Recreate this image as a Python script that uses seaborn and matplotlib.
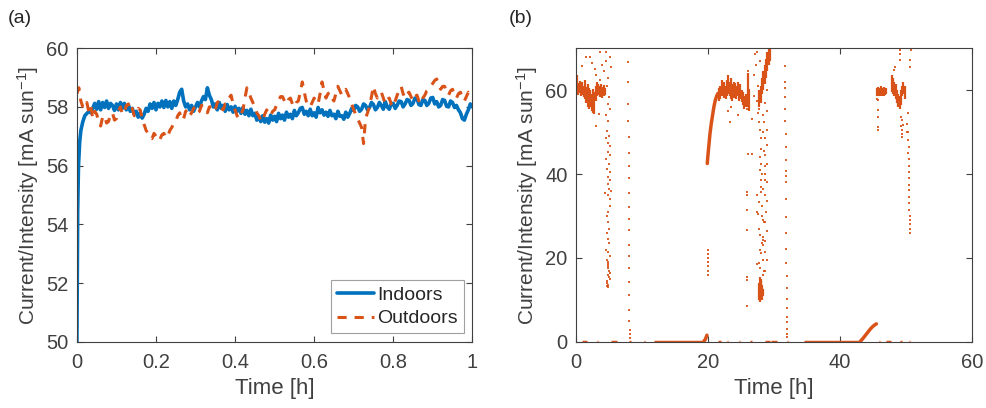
import numpy as np
import pandas as pd
import matplotlib
matplotlib.use("Agg")
import matplotlib.pyplot as plt
import seaborn as sns

# ---- panel (a): indoors / outdoors, first hour ----
# start-up of the indoor cell
indoor_start_t = [0.0, 0.002, 0.004, 0.007, 0.01, 0.015, 0.02, 0.03, 0.035]
indoor_start_y = [50.0, 54.5, 56.0, 56.8, 57.2, 57.5, 57.7, 57.85, 57.8]

indoor_t = [0.040, 0.045, 0.050, 0.055, 0.060, 0.065, 0.070, 0.075, 0.080, 0.085,
            0.090, 0.095, 0.100, 0.105, 0.110, 0.115, 0.120, 0.125, 0.130, 0.135,
            0.140, 0.145, 0.150, 0.155, 0.160, 0.165, 0.170, 0.175, 0.180, 0.185,
            0.190, 0.195, 0.200, 0.205, 0.210, 0.215, 0.220, 0.225, 0.230, 0.235,
            0.240, 0.245, 0.250, 0.255, 0.260, 0.265, 0.270, 0.275, 0.280, 0.285,
            0.290, 0.295, 0.300, 0.305, 0.310, 0.315, 0.320, 0.325, 0.330, 0.335,
            0.340, 0.345, 0.350, 0.355, 0.360, 0.365, 0.370, 0.375, 0.380, 0.385,
            0.390, 0.395, 0.400, 0.405, 0.410, 0.415, 0.420, 0.425, 0.430, 0.435,
            0.440, 0.445, 0.450, 0.455, 0.460, 0.465, 0.470, 0.475, 0.480, 0.485,
            0.490, 0.495, 0.500, 0.505, 0.510, 0.515, 0.520, 0.525, 0.530, 0.535,
            0.540, 0.545, 0.550, 0.555, 0.560, 0.565, 0.570, 0.575, 0.580, 0.585,
            0.590, 0.595, 0.600, 0.605, 0.610, 0.615, 0.620, 0.625, 0.630, 0.635,
            0.640, 0.645, 0.650, 0.655, 0.660, 0.665, 0.670, 0.675, 0.680, 0.685,
            0.690, 0.695, 0.700, 0.705, 0.710, 0.715, 0.720, 0.725, 0.730, 0.735,
            0.740, 0.745, 0.750, 0.755, 0.760, 0.765, 0.770, 0.775, 0.780, 0.785,
            0.790, 0.795, 0.800, 0.805, 0.810, 0.815, 0.820, 0.825, 0.830, 0.835,
            0.840, 0.845, 0.850, 0.855, 0.860, 0.865, 0.870, 0.875, 0.880, 0.885,
            0.890, 0.895, 0.900, 0.905, 0.910, 0.915, 0.920, 0.925, 0.930, 0.935,
            0.940, 0.945, 0.950, 0.955, 0.960, 0.965, 0.970, 0.975, 0.980, 0.985,
            0.990, 0.995, 1.000]
indoor_y = [57.95, 58.12, 57.92, 58.18, 57.9, 58.15, 57.98, 58.2, 57.95, 58.12,
            58.05, 57.88, 58.1, 57.9, 58.15, 57.95, 58.12, 57.9, 58.08, 57.85,
            57.95, 57.75, 57.85, 57.65, 57.8, 57.62, 57.75, 57.95, 57.85, 58.1,
            57.95, 58.15, 57.9, 58.12, 58.0, 58.2, 57.98, 58.22, 58.0, 58.18,
            57.95, 58.2, 58.05, 58.25, 58.5, 58.6, 58.2, 58.0, 58.1, 57.9,
            58.05, 57.85, 58.0, 58.15, 58.0, 58.2, 58.35, 58.25, 58.65, 58.4,
            58.25, 58.0, 58.1, 57.9, 58.15, 57.95, 58.05, 57.85, 58.08, 57.9,
            58.0, 57.82, 58.02, 57.85, 57.95, 57.78, 57.98, 57.75, 57.88, 57.7,
            57.92, 57.7, 57.78, 57.55, 57.68, 57.5, 57.7, 57.48, 57.6, 57.45,
            57.72, 57.55, 57.68, 57.5, 57.78, 57.6, 57.72, 57.55, 57.82, 57.65,
            57.75, 57.6, 57.88, 57.7, 57.8, 57.95, 57.98, 57.75, 57.85, 57.7,
            57.92, 57.7, 57.8, 57.65, 57.98, 57.8, 57.9, 57.72, 57.82, 57.68,
            57.88, 57.7, 57.75, 57.6, 57.85, 57.68, 57.7, 57.58, 57.82, 57.65,
            57.78, 57.95, 57.88, 58.05, 58.0, 57.85, 57.92, 58.1, 58.05, 57.9,
            57.98, 58.15, 58.08, 57.9, 57.98, 58.15, 58.05, 57.92, 58.18, 58.0,
            57.92, 58.1, 58.12, 57.95, 58.05, 58.2, 58.18, 58.0, 58.1, 58.25,
            58.22, 58.05, 58.12, 58.3, 58.28, 58.08, 58.05, 58.25, 58.22, 58.05,
            58.12, 58.3, 58.32, 58.1, 58.18, 58.0, 58.05, 58.25, 58.22, 58.02,
            58.0, 58.2, 58.15, 57.98, 58.05, 57.9, 57.8, 57.6, 57.55, 57.75,
            57.9, 58.1, 58.0]

outdoor_t = [0.000, 0.005, 0.010, 0.015, 0.020, 0.025, 0.030, 0.035, 0.040, 0.045,
             0.050, 0.055, 0.060, 0.065, 0.070, 0.075, 0.080, 0.085, 0.090, 0.095,
             0.100, 0.105, 0.110, 0.115, 0.120, 0.125, 0.130, 0.135, 0.140, 0.145,
             0.150, 0.155, 0.160, 0.165, 0.170, 0.175, 0.180, 0.185, 0.190, 0.195,
             0.200, 0.205, 0.210, 0.215, 0.220, 0.225, 0.230, 0.235, 0.240, 0.245,
             0.250, 0.255, 0.260, 0.265, 0.270, 0.275, 0.280, 0.285, 0.290, 0.295,
             0.300, 0.305, 0.310, 0.315, 0.320, 0.325, 0.330, 0.335, 0.340, 0.345,
             0.350, 0.355, 0.360, 0.365, 0.370, 0.375, 0.380, 0.385, 0.390, 0.395,
             0.400, 0.405, 0.410, 0.415, 0.420, 0.425, 0.430, 0.435, 0.440, 0.445,
             0.450, 0.455, 0.460, 0.465, 0.470, 0.475, 0.480, 0.485, 0.490, 0.495,
             0.500, 0.505, 0.510, 0.515, 0.520, 0.525, 0.530, 0.535, 0.540, 0.545,
             0.550, 0.555, 0.560, 0.565, 0.570, 0.575, 0.580, 0.585, 0.590, 0.595,
             0.600, 0.605, 0.610, 0.615, 0.620, 0.625, 0.630, 0.635, 0.640, 0.645,
             0.650, 0.655, 0.660, 0.665, 0.670, 0.675, 0.680, 0.685, 0.690, 0.695,
             0.700, 0.705, 0.710, 0.715, 0.720, 0.725, 0.730, 0.735, 0.740, 0.745,
             0.750, 0.755, 0.760, 0.765, 0.770, 0.775, 0.780, 0.785, 0.790, 0.795,
             0.800, 0.805, 0.810, 0.815, 0.820, 0.825, 0.830, 0.835, 0.840, 0.845,
             0.850, 0.855, 0.860, 0.865, 0.870, 0.875, 0.880, 0.885, 0.890, 0.895,
             0.900, 0.905, 0.910, 0.915, 0.920, 0.925, 0.930, 0.935, 0.940, 0.945,
             0.950, 0.955, 0.960, 0.965, 0.970, 0.975, 0.980, 0.985, 0.990, 0.995,
             1.000]
outdoor_y = [58.45, 58.65, 58.2, 58.0, 57.95, 58.15, 57.85, 58.05, 57.6, 57.85,
             57.75, 57.5, 57.35, 57.65, 57.7, 57.45, 57.5, 57.75, 57.8, 57.55,
             57.6, 57.85, 58.0, 57.75, 57.8, 58.05, 58.1, 57.85, 57.95, 57.7,
             57.75, 57.95, 57.9, 57.6, 57.4, 57.2, 57.1, 56.95, 56.92, 57.1,
             57.0, 56.85, 56.9, 57.05, 57.1, 56.95, 57.0, 57.2, 57.3, 57.45,
             57.5, 57.7, 57.8, 57.55, 57.6, 57.85, 57.9, 57.7, 57.8, 57.95,
             58.0, 57.8, 57.85, 58.05, 58.05, 57.85, 57.8, 58.0, 58.0, 57.85,
             57.9, 58.15, 58.2, 57.95, 57.9, 58.1, 58.1, 58.3, 58.4, 58.1,
             57.9, 57.7, 57.6, 57.75, 57.9, 58.3, 58.65, 58.5, 58.3, 58.15,
             58.0, 57.8, 57.7, 57.55, 57.5, 57.75, 57.9, 57.75, 57.7, 57.85,
             57.9, 58.05, 58.2, 58.35, 58.35, 58.2, 58.1, 58.25, 58.3, 58.1,
             58.0, 58.15, 58.2, 58.5, 58.85, 58.5, 58.2, 58.05, 58.0, 58.15,
             58.3, 58.15, 58.1, 58.45, 58.85, 58.55, 58.3, 58.45, 58.5, 58.3,
             58.2, 58.45, 58.7, 58.55, 58.4, 58.55, 58.6, 58.45, 58.3, 58.1,
             57.9, 57.75, 57.6, 57.45, 57.3, 56.75, 57.6, 57.8, 58.0, 58.35,
             58.7, 58.45, 58.3, 58.45, 58.5, 58.3, 58.1, 58.25, 58.3, 58.1,
             58.0, 58.2, 58.4, 58.55, 58.7, 58.45, 58.3, 58.45, 58.5, 58.35,
             58.2, 58.35, 58.4, 58.2, 58.1, 58.3, 58.4, 58.55, 58.6, 58.7,
             58.8, 58.9, 58.95, 58.75, 58.6, 58.7, 58.7, 58.5, 58.4, 58.55,
             58.6, 58.4, 58.3, 58.45, 58.5, 58.3, 58.2, 58.35, 58.5, 58.4,
             58.4]

# ---- panel (b): outdoors, 60 h ----
# dense bands: time, lower and upper edge
band_t = [0.0, 0.2, 0.4, 0.6, 0.8, 1.0, 1.2, 1.4, 1.6, 1.8, 2.0, 2.2, 2.4, 2.6, 2.8,
          3.0, 3.2, 3.4, 3.6, 3.8, 4.0, 4.2, 4.4,
          21.7, 21.9, 22.1, 22.3, 22.5, 22.7, 22.9, 23.1, 23.3, 23.5, 23.7, 23.9,
          24.1, 24.3, 24.5, 24.7, 24.9, 25.1, 25.3, 25.5, 25.7, 26.0, 26.2,
          27.8, 28.0, 28.2, 28.4, 28.6, 28.8, 29.0, 29.2, 29.4,
          27.8, 27.9, 28.0, 28.1, 28.2, 28.3,
          45.6, 45.8, 46.0, 46.2, 46.4, 46.6, 46.8, 47.0,
          47.8, 48.0, 48.2, 48.4, 48.6, 48.8, 49.0, 49.2, 49.4, 49.6, 49.8]
band_lo = [59.0, 59.5, 58.8, 59.3, 58.6, 58.8, 58.3, 58.0, 57.0, 56.0, 55.5, 56.0, 55.0, 54.6, 54.4,
           57.5, 58.5, 58.8, 58.3, 58.6, 58.2, 58.5, 58.8,
           57.5, 58.0, 58.5, 59.0, 58.2, 57.8, 58.5, 59.0, 58.5, 58.0, 57.5, 58.2,
           58.8, 57.8, 58.5, 57.5, 58.0, 57.2, 56.5, 55.5, 56.0, 56.0, 55.0,
           56.0, 57.0, 59.0, 60.0, 61.5, 63.0, 64.5, 66.0, 67.0,
           10.0, 9.6, 10.5, 11.0, 10.0, 11.0,
           58.5, 58.7, 58.5, 58.8, 58.6, 58.5, 58.8, 59.0,
           59.5, 59.0, 58.5, 58.0, 57.0, 56.0, 55.5, 56.5, 58.5, 59.0, 58.0]
band_hi = [62.6, 63.5, 61.8, 62.2, 61.5, 62.0, 61.0, 62.5, 60.7, 61.5, 60.5, 60.0, 59.0, 60.2, 59.5,
           61.0, 62.0, 61.5, 61.0, 61.5, 60.8, 61.2, 60.5,
           60.5, 61.0, 62.5, 61.5, 62.0, 61.0, 62.5, 63.5, 62.0, 63.0, 61.5, 62.0,
           61.8, 61.0, 62.0, 60.5, 61.5, 60.0, 59.5, 58.5, 59.0, 64.0, 60.0,
           60.0, 61.0, 63.0, 64.5, 66.0, 67.5, 69.0, 70.0, 70.0,
           14.0, 15.5, 15.0, 14.5, 13.5, 12.5,
           60.5, 60.8, 60.5, 61.0, 60.6, 60.8, 60.3, 60.5,
           63.5, 63.0, 62.0, 61.5, 60.0, 59.0, 58.5, 60.0, 61.0, 62.0, 61.0]

# smooth ramps (morning start-up curves)
ramp1_t = [19.4, 19.6, 19.75, 19.85]
ramp1_y = [0.2, 0.6, 1.2, 1.6]
ramp2_t = [19.9, 20.0, 20.15, 20.3, 20.5, 20.7, 20.9, 21.1, 21.3, 21.5]
ramp2_y = [42.5, 44.5, 47.0, 49.5, 52.0, 54.0, 56.0, 57.5, 58.5, 59.2]
ramp3_t = [43.1, 43.4, 43.7, 44.0, 44.3, 44.6, 44.9, 45.2, 45.5]
ramp3_y = [0.2, 0.7, 1.3, 1.9, 2.5, 3.1, 3.6, 4.0, 4.3]

# runs of zero current (night)
zero_start = [0.9, 3.2, 5.4, 8.1, 10.3, 11.9, 21.5, 22.9, 24.7, 26.4, 28.6, 29.6,
              31.9, 34.6, 45.9, 46.9, 49.1, 50.4]
zero_end = [1.7, 3.4, 6.3, 8.3, 10.5, 19.5, 22.0, 23.1, 24.9, 26.6, 29.4, 30.4,
            32.1, 43.1, 46.1, 47.7, 49.3, 50.6]

# isolated samples
dots_t = [1.0, 1.6, 2.1, 2.5, 2.9, 3.1, 3.6, 3.7, 4.0, 4.3, 4.5, 4.6, 4.9, 5.2, 5.25,
          4.7, 5.0, 4.9, 5.1, 3.5, 4.6, 4.9, 3.1, 4.7, 5.0, 4.8, 5.1, 4.5, 4.8, 5.2,
          4.6, 5.0, 4.7, 5.1, 4.9, 5.2, 4.8, 5.0, 5.3,
          4.4, 4.9, 5.2, 5.1, 4.8, 4.7, 4.9, 5.0, 4.7, 4.8, 5.0, 4.6, 4.9, 5.1, 4.7,
          4.8, 5.0, 4.9, 5.1, 4.7, 4.8, 4.9, 4.8, 4.9, 4.8, 5.1, 5.0, 4.7, 4.75,
          7.9, 7.9, 7.95, 7.95, 8.0, 8.0, 8.0, 8.0, 8.05, 8.0, 8.0, 8.0, 8.05, 8.05,
          8.05, 8.1, 8.1, 8.1, 8.1, 8.15, 8.15, 8.15,
          19.95, 19.95, 19.95, 20.0, 20.0, 20.0, 20.0,
          23.1, 23.3, 24.6, 23.5, 25.9, 26.1, 26.1, 26.2, 26.2, 26.1, 26.6, 26.7,
          26.9, 27.0, 27.1, 27.0, 27.3, 27.6, 27.4, 27.6, 27.8, 27.8, 27.9, 28.0,
          28.0, 27.9, 28.1, 27.9, 28.2, 28.0, 28.1, 28.4, 28.3, 28.5, 28.6, 28.7,
          28.3, 27.5, 27.9,
          25.9, 25.9, 25.9, 25.9, 25.9, 25.9, 25.9, 27.4, 28.0, 27.7, 28.2, 27.5,
          28.2, 27.6, 28.3, 27.8, 28.5, 27.9, 28.3, 28.4, 28.2, 28.3, 27.9, 28.1,
          28.4, 27.8, 27.4, 27.9, 28.5, 28.3,
          28.6, 28.9, 28.7, 29.0, 28.5, 28.9, 28.6, 29.0, 28.7, 28.9, 28.6, 28.9,
          28.7, 28.9, 28.8, 28.6, 28.9, 28.7, 28.6, 28.9, 28.7,
          31.6, 31.65, 31.65, 31.7, 31.7, 31.7, 31.75, 31.75, 31.75, 31.8, 31.8,
          31.8, 31.8, 31.85, 31.85, 31.85, 31.85, 31.9, 31.9, 31.9, 31.95, 31.95,
          31.95, 32.0, 32.0, 32.0,
          45.7, 45.7, 45.7, 45.7, 45.7, 45.6,
          48.3, 48.1, 49.0, 49.0, 49.1, 50.7, 50.6, 50.6,
          49.2, 49.3, 49.2, 49.3, 49.4, 49.3, 49.5,
          50.3, 50.2, 50.3, 50.3, 50.4, 50.3, 50.4, 50.4, 50.4, 50.5, 50.4, 50.5,
          50.5, 50.5, 50.5, 50.6, 50.6, 50.6, 50.6, 50.6, 50.1]
dots_y = [65.8, 67.8, 67.8, 66.5, 65.0, 63.5, 62.5, 69.2, 66.0, 64.5, 69.2, 67.0, 63.0, 67.8, 65.5,
          61.0, 58.3, 56.7, 55.5, 54.3, 54.0, 52.7, 51.5, 50.3, 49.0, 47.5, 46.8, 48.7, 45.2, 44.5,
          43.6, 42.5, 41.2, 40.5, 39.2, 38.5, 37.6, 36.5, 36.0,
          35.5, 35.0, 34.0, 32.5, 31.0, 30.0, 28.5, 27.0, 26.0, 24.5, 23.5, 22.0, 21.5, 20.5, 19.5,
          18.5, 17.0, 16.0, 15.0, 14.5, 13.5, 13.0, 19.0, 18.0, 17.5, 16.5, 15.5, 14.0, 13.3,
          66.7, 62.0, 56.7, 52.6, 48.9, 45.1, 42.0, 39.0, 35.5, 32.1, 29.3, 26.6, 23.2, 20.4,
          17.6, 14.3, 11.2, 7.5, 5.1, 2.9, 1.9, 1.0,
          22.0, 21.0, 20.0, 19.0, 18.0, 17.0, 16.0,
          55.0, 52.5, 54.0, 56.0, 55.5, 64.5, 62.0, 60.0, 58.0, 44.8, 44.8, 53.0,
          58.5, 63.5, 68.5, 70.0, 66.0, 61.0, 57.5, 54.5, 55.5, 52.5, 50.5, 48.5,
          46.0, 44.0, 42.5, 41.0, 40.0, 38.5, 37.0, 54.0, 50.0, 45.5, 42.0, 38.5,
          36.5, 69.0, 67.0,
          35.8, 35.0, 31.4, 26.7, 15.5, 14.8, 8.6, 35.0, 35.8, 33.4, 32.5, 31.0,
          30.0, 30.5, 29.0, 27.0, 28.5, 25.5, 25.0, 24.2, 23.5, 23.0, 22.0, 21.2,
          19.5, 18.7, 18.5, 17.5, 17.0, 16.0,
          62.0, 60.0, 57.0, 55.0, 52.5, 50.5, 48.5, 47.0, 44.5, 42.5, 40.0, 38.0,
          35.0, 33.5, 31.0, 28.5, 26.5, 24.0, 21.5, 19.5, 17.0,
          65.8, 62.0, 60.6, 58.3, 55.6, 52.7, 49.5, 46.5, 43.4, 40.8, 39.6,
          38.0, 34.0, 29.8, 25.9, 22.2, 18.9, 15.7, 12.9, 10.2, 8.0, 6.0,
          4.8, 3.0, 1.9, 1.2,
          57.6, 55.2, 53.6, 51.3, 50.5, 58.0,
          65.5, 64.8, 69.5, 68.5, 67.1, 69.5, 67.1, 65.5,
          53.6, 52.8, 51.5, 50.5, 49.5, 48.9, 51.8,
          54.5, 52.0, 50.0, 48.1, 46.5, 45.0, 43.5, 42.0, 40.5, 39.0, 37.5, 36.2,
          34.5, 33.0, 31.5, 30.0, 29.0, 28.0, 27.0, 26.0, 50.0]

BLUE = "#0072BD"
ORANGE = "#D95319"
GREY = "#404040"

sns.set_style("ticks")
plt.rcParams['font.family'] = ['Liberation Sans', 'DejaVu Sans']
plt.rcParams['mathtext.default'] = 'regular'
plt.rcParams['font.size'] = 14

fig = plt.figure(figsize=(9.86, 4.08), dpi=100)
ax1 = fig.add_axes([0.078, 0.162, 0.401, 0.720])
ax2 = fig.add_axes([0.584, 0.162, 0.402, 0.720])

# panel (a)
df_in = pd.DataFrame({"t": indoor_start_t + indoor_t, "y": indoor_start_y + indoor_y})
df_out = pd.DataFrame({"t": outdoor_t, "y": outdoor_y})
sns.lineplot(data=df_in, x="t", y="y", ax=ax1, color=BLUE, lw=2.6,
             label="Indoors", estimator=None, sort=False)
sns.lineplot(data=df_out, x="t", y="y", ax=ax1, color=ORANGE, lw=2.2,
             linestyle=(0, (3.0, 2.6)), label="Outdoors", estimator=None, sort=False)
ax1.set_xlim(0, 1)
ax1.set_ylim(50, 60)
ax1.set_xticks([0, 0.2, 0.4, 0.6, 0.8, 1])
ax1.set_xticklabels(["0", "0.2", "0.4", "0.6", "0.8", "1"])
ax1.set_yticks([50, 52, 54, 56, 58, 60])
leg = ax1.legend(loc="lower right", fontsize=14, frameon=True, fancybox=False,
                 edgecolor="#a0a0a0", framealpha=1, handlelength=1.9,
                 borderpad=0.3, labelspacing=0.3, handletextpad=0.15,
                 borderaxespad=0.45)
leg.get_frame().set_linewidth(0.8)
for txt in leg.get_texts():
    txt.set_color("#262626")

# panel (b)
ax2.hlines([0] * len(zero_start), zero_start, zero_end, color=ORANGE, lw=2.5)
ax2.vlines(band_t, band_lo, band_hi, color=ORANGE, lw=1.6)
for rt, ry in [(ramp1_t, ramp1_y), (ramp2_t, ramp2_y), (ramp3_t, ramp3_y)]:
    sns.lineplot(x=rt, y=ry, ax=ax2, color=ORANGE, lw=2.5, estimator=None, sort=False)
sns.scatterplot(x=dots_t, y=dots_y, ax=ax2, color=ORANGE, marker="s", s=3.5,
                linewidth=0, alpha=0.9)
ax2.set_xlim(0, 60)
ax2.set_ylim(0, 70)
ax2.set_xticks([0, 20, 40, 60])
ax2.set_yticks([0, 20, 40, 60])

ylab = "Current/Intensity [mA sun$^{-1}$]"
for ax in (ax1, ax2):
    ax.set_xlabel("Time [h]", fontsize=16, color=GREY, labelpad=4)
    ax.set_ylabel(ylab, fontsize=15, color=GREY, labelpad=4)
    ax.tick_params(axis="both", direction="in", top=True, right=True, length=4,
                   width=0.8, labelsize=14.5, colors=GREY)
    ax.tick_params(axis="x", pad=8)
    ax.tick_params(axis="y", pad=6)
    for sp in ax.spines.values():
        sp.set_visible(True)
        sp.set_color(GREY)
        sp.set_linewidth(0.8)

fig.text(0.008, 0.975, "(a)", fontsize=14, color="#262626", va="top")
fig.text(0.516, 0.975, "(b)", fontsize=14, color="#262626", va="top")

fig.savefig("out.png", dpi=100)
